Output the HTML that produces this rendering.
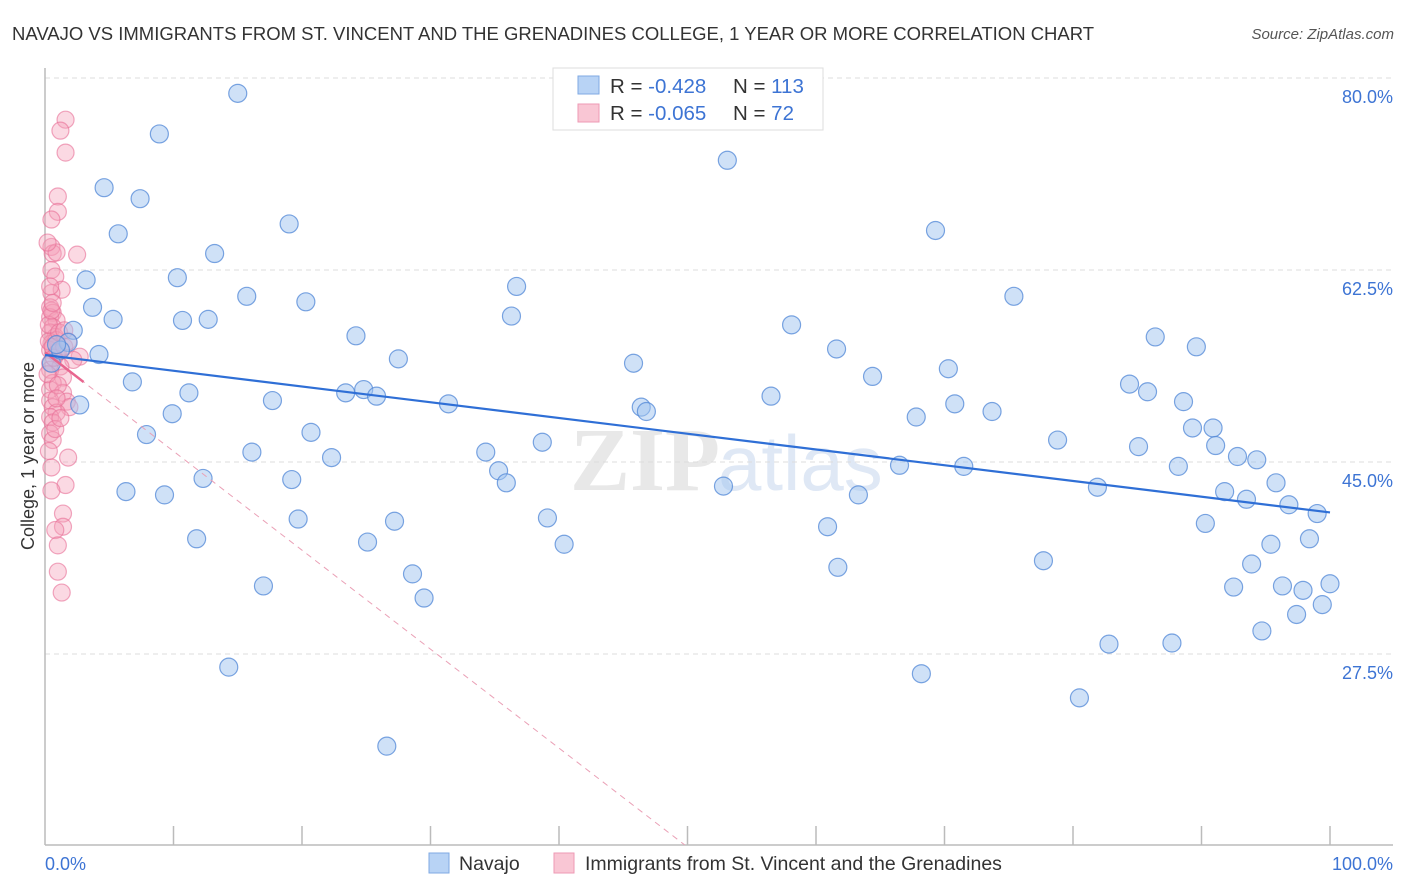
<!DOCTYPE html>
<html><head><meta charset="utf-8"><style>
body{margin:0;background:#fff;width:1406px;height:892px;overflow:hidden;font-family:"Liberation Sans",sans-serif}
svg{position:absolute;left:0;top:0}
</style></head><body>
<svg id="chart" width="1406" height="892">
<text x="12" y="40" font-size="18.5" fill="#333">NAVAJO VS IMMIGRANTS FROM ST. VINCENT AND THE GRENADINES COLLEGE, 1 YEAR OR MORE CORRELATION CHART</text>
<text x="1394" y="39" font-size="15" fill="#555" font-style="italic" text-anchor="end">Source: ZipAtlas.com</text>
<text x="720" y="490" font-size="90" fill="#e8e8e8" text-anchor="end" font-family="Liberation Serif" font-weight="bold">ZIP</text>
<text x="718" y="490" font-size="78" fill="#dfe8f5">atlas</text>
<g id="grid"></g><g id="axes"></g><g id="pts"></g><g id="lines"></g>
<text x="34" y="456" font-size="18" fill="#333" text-anchor="middle" transform="rotate(-90 34 456)">College, 1 year or more</text>
<g>
<rect x="553" y="68" width="270" height="62" fill="#fff" stroke="#ddd"/>
<rect x="578" y="76" width="21" height="18" fill="#b8d3f5" stroke="#7fa9e3"/>
<rect x="578" y="104" width="21" height="18" fill="#f9c6d4" stroke="#ee9ab4"/>
<text x="610" y="93" font-size="20.5" fill="#333">R = <tspan fill="#3d74d4">-0.428</tspan><tspan x="733">N = </tspan><tspan fill="#3d74d4">113</tspan></text>
<text x="610" y="120" font-size="20.5" fill="#333">R = <tspan fill="#3d74d4">-0.065</tspan><tspan x="733">N = </tspan><tspan fill="#3d74d4"> 72</tspan></text>
</g>
<g>
<rect x="429" y="853" width="20" height="20" fill="#b8d3f5" stroke="#7fa9e3"/>
<text x="459" y="870" font-size="19.5" fill="#333">Navajo</text>
<rect x="554" y="853" width="20" height="20" fill="#f9c6d4" stroke="#ee9ab4"/>
<text x="585" y="870" font-size="19.5" fill="#333">Immigrants from St. Vincent and the Grenadines</text>
</g>
</svg>
<script>
const yTicks=[80,62.5,45,27.5];
const yTickLabels=["80.0%","62.5%","45.0%","27.5%"];
const xTickLabels=["0.0%","100.0%"];
const blueX=[15.0,8.9,53.1,4.6,7.4,19.0,5.7,69.3,13.2,10.3,3.2,36.7,15.7,20.3,75.4,3.7,5.3,10.7,12.7,36.3,58.1,2.2,24.2,1.8,86.4,61.6,89.6,4.2,27.5,45.8,0.5,70.3,64.4,6.8,84.4,11.2,23.4,24.8,25.8,85.8,56.5,17.7,2.7,31.4,46.4,46.8,70.8,88.6,73.7,9.9,67.8,89.3,90.9,7.9,20.7,38.7,78.8,85.1,16.1,34.3,91.1,22.3,92.8,94.3,66.5,71.5,88.2,35.3,12.3,19.2,35.9,52.8,95.8,6.3,9.3,81.9,63.3,91.8,93.5,96.8,99.0,19.7,27.2,39.1,60.9,90.3,11.8,25.1,40.4,95.4,98.4,77.7,93.9,28.6,61.7,17.0,92.5,96.3,97.9,100.0,29.5,99.4,97.4,94.7,82.8,87.7,14.3,68.2,80.5,26.6,1.2,0.9];
const blueY=[78.6,74.9,72.5,70.0,69.0,66.7,65.8,66.1,64.0,61.8,61.6,61.0,60.1,59.6,60.1,59.1,58.0,57.9,58.0,58.3,57.5,57.0,56.5,55.9,56.4,55.3,55.5,54.8,54.4,54.0,54.0,53.5,52.8,52.3,52.1,51.3,51.3,51.6,51.0,51.4,51.0,50.6,50.2,50.3,50.0,49.6,50.3,50.5,49.6,49.4,49.1,48.1,48.1,47.5,47.7,46.8,47.0,46.4,45.9,45.9,46.5,45.4,45.5,45.2,44.7,44.6,44.6,44.2,43.5,43.4,43.1,42.8,43.1,42.3,42.0,42.7,42.0,42.3,41.6,41.1,40.3,39.8,39.6,39.9,39.1,39.4,38.0,37.7,37.5,37.5,38.0,36.0,35.7,34.8,35.4,33.7,33.6,33.7,33.3,33.9,32.6,32.0,31.1,29.6,28.4,28.5,26.3,25.7,23.5,19.1,55.2,55.7];
const pinkX=[1.6,1.2,1.6,1.0,1.0,0.5,0.5,0.6,0.9,2.5,0.5,0.8,1.3,0.5,0.4,0.6,0.4,0.9,0.6,0.4,0.8,0.5,0.9,0.4,0.9,2.7,2.2,0.4,1.2,0.4,1.4,0.6,0.4,1.4,0.4,1.7,0.6,1.9,0.9,0.4,0.6,0.4,0.6,1.8,0.5,1.6,0.5,1.4,1.4,0.8,1.0,1.0,1.3,0.3,0.6,1.0,0.3,0.7,1.1,0.5,1.5,0.2,1.0,0.3,0.8,0.4,1.8,0.6,0.2,1.5,0.9,1.2];
const pinkY=[76.2,75.2,73.2,69.2,67.8,67.1,64.6,64.0,64.1,63.9,62.5,61.9,60.7,60.4,59.1,58.6,58.2,57.9,57.3,56.8,56.4,55.8,56.1,55.2,54.9,54.6,54.3,54.0,53.7,53.4,52.7,52.2,51.6,51.3,50.6,50.5,50.0,50.0,49.5,49.1,48.6,47.6,47.0,45.4,44.5,42.9,42.4,40.3,39.1,38.8,37.4,35.0,33.1,56.0,55.5,55.0,57.5,54.5,56.8,58.8,55.5,53.0,52.0,46.0,48.0,61.0,56.0,59.5,65.0,57.0,50.8,49.0];
const blueTrend=[54.75,40.4];   // y at x=0 and x=100
const pinkTrend=[55.0,-0.902];  // intercept, slope
const NS="http://www.w3.org/2000/svg";
const X0=45,X1=1330,YTOP=78,PXU=10.971;
function sx(v){return X0+(X1-X0)*v/100;}
function sy(v){return YTOP+(80-v)*PXU;}
function mk(parent,tag,attrs){const e=document.createElementNS(NS,tag);for(const k in attrs)e.setAttribute(k,attrs[k]);parent.appendChild(e);return e;}
const grid=document.getElementById('grid'),axes=document.getElementById('axes'),pts=document.getElementById('pts'),lines=document.getElementById('lines');
yTicks.forEach((t,i)=>{
  const l=mk(grid,'line',{x1:45,x2:1393,y1:sy(t),y2:sy(t),stroke:'#ddd','stroke-dasharray':'5,4'});
  
  
  const tx=mk(grid,'text',{x:1393,y:sy(t)+25,'font-size':18,fill:'#3d74d4','text-anchor':'end'});
  tx.textContent=yTickLabels[i];
  
  
});
const ya=mk(axes,'line',{x1:45,x2:45,y1:68,y2:845,stroke:'#bbb','stroke-width':1.5});


const xa=mk(axes,'line',{x1:45,x2:1393,y1:845,y2:845,stroke:'#bbb','stroke-width':1.5});


for(let i=1;i<=10;i++){
  const t=mk(axes,'line',{x1:sx(i*10),x2:sx(i*10),y1:826,y2:845,stroke:'#bbb','stroke-width':1.5});
  
  
}
const xl0=mk(axes,'text',{x:45,y:870,'font-size':18,fill:'#3d74d4'});xl0.textContent=xTickLabels[0];


const xl1=mk(axes,'text',{x:1393,y:870,'font-size':18,fill:'#3d74d4','text-anchor':'end'});xl1.textContent=xTickLabels[1];


pinkX.forEach((v,i)=>{
  const c=mk(pts,'circle',{cx:sx(v),cy:sy(pinkY[i]),r:8.5,fill:'rgba(244,160,186,0.4)',stroke:'rgba(232,110,150,0.6)','stroke-width':1.2});
  
  
});
blueX.forEach((v,i)=>{
  const c=mk(pts,'circle',{cx:sx(v),cy:sy(blueY[i]),r:9,fill:'rgba(160,195,240,0.5)',stroke:'rgba(80,135,215,0.75)','stroke-width':1.2});
  
  
});
const pxEnd=(10.1-pinkTrend[0])/pinkTrend[1];
const pd=mk(lines,'line',{x1:sx(0),y1:sy(pinkTrend[0]),x2:sx(pxEnd),y2:sy(10.1),stroke:'#eaa0b6','stroke-width':1,'stroke-dasharray':'6,5'});


const ps=mk(lines,'line',{x1:sx(0),y1:sy(pinkTrend[0]),x2:sx(3),y2:sy(pinkTrend[0]+3*pinkTrend[1]),stroke:'#e8668f','stroke-width':2.5});


const bl=mk(lines,'line',{x1:sx(0),y1:sy(blueTrend[0]),x2:sx(100),y2:sy(blueTrend[1]),stroke:'#2f6fd6','stroke-width':2.2});


</script>
</body></html>
